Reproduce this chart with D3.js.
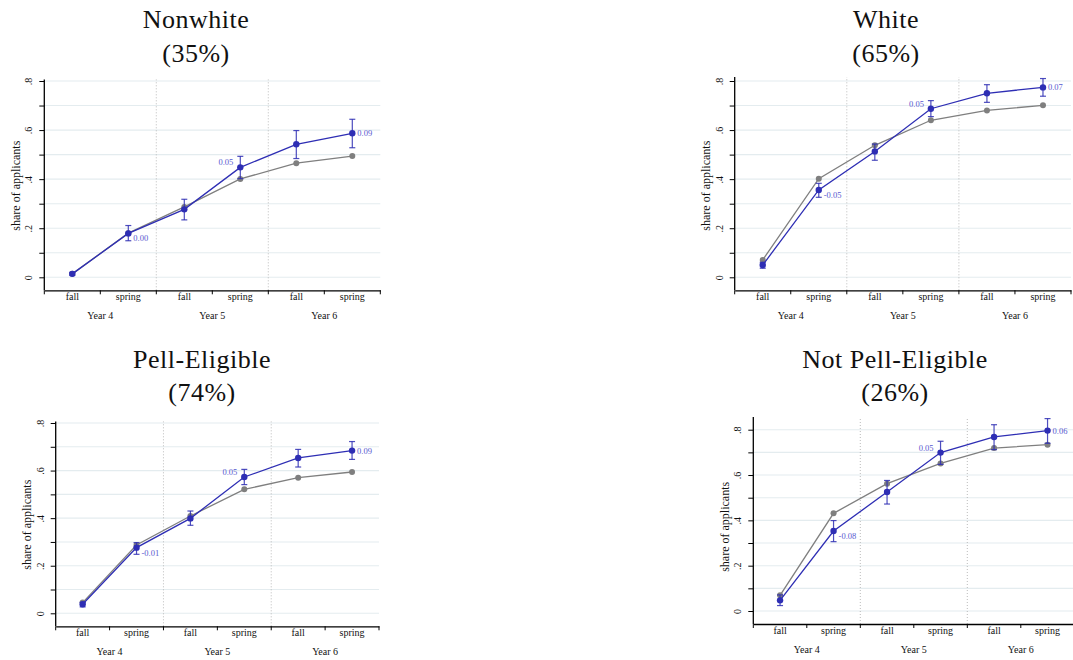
<!DOCTYPE html>
<html><head><meta charset="utf-8">
<script src="https://cdn.jsdelivr.net/npm/d3@7"></script>
<style>body{margin:0;background:#fff}svg{display:block}
svg text{font-family:"Liberation Serif","Tinos","Times New Roman","Times","Nimbus Roman","Nimbus Roman No9 L","FreeSerif","DejaVu Serif","Noto Serif",serif;}</style>
</head><body><svg id="c" width="1073" height="660"></svg>
<script>
// ---------- data ----------
const terms = ["fall","spring","fall","spring","fall","spring"];
const years = ["Year 4","Year 5","Year 6"];
const yTicks = [0,0.2,0.4,0.6,0.8];
const yTickLabels = ["0",".2",".4",".6",".8"];
const gridValues = [0,0.1,0.2,0.3,0.4,0.5,0.6,0.7,0.8];
const titles = ["Nonwhite","White","Pell-Eligible","Not Pell-Eligible"];
const shares = ["(35%)","(65%)","(74%)","(26%)"];
const yTitle = "share of applicants";
const labelIndex = [1,3,5];

const nonwhiteTreated = [0.014,0.179,0.277,0.448,0.542,0.587];
const nonwhiteControl = [0.014,0.180,0.287,0.401,0.465,0.494];
const nonwhiteLow     = [0.008,0.149,0.234,0.402,0.484,0.528];
const nonwhiteHigh    = [0.020,0.211,0.318,0.493,0.598,0.644];
const nonwhiteDiff    = ["0.00","0.05","0.09"];

const whiteTreated = [0.050,0.356,0.513,0.687,0.750,0.774];
const whiteControl = [0.071,0.402,0.538,0.640,0.680,0.701];
const whiteLow     = [0.037,0.326,0.477,0.655,0.713,0.738];
const whiteHigh    = [0.061,0.383,0.543,0.720,0.785,0.810];
const whiteDiff    = ["-0.05","0.05","0.07"];

const pellTreated = [0.038,0.276,0.399,0.573,0.653,0.684];
const pellControl = [0.045,0.287,0.409,0.521,0.570,0.594];
const pellLow     = [0.027,0.248,0.370,0.541,0.615,0.647];
const pellHigh    = [0.046,0.297,0.430,0.605,0.689,0.722];
const pellDiff    = ["-0.01","0.05","0.09"];

const notPellTreated = [0.047,0.353,0.525,0.699,0.768,0.796];
const notPellControl = [0.069,0.431,0.562,0.651,0.719,0.734];
const notPellLow     = [0.024,0.306,0.472,0.647,0.712,0.740];
const notPellHigh    = [0.071,0.399,0.576,0.749,0.822,0.849];
const notPellDiff    = ["-0.08","0.05","0.06"];

// ---------- layout ----------
const panels = [
  {t:0, treated:nonwhiteTreated, control:nonwhiteControl, lo:nonwhiteLow, hi:nonwhiteHigh, diff:nonwhiteDiff,
   left:44.3, right:380.3, top:81, bottom:277.3, tx:196, ty1:28, ty2:62},
  {t:1, treated:whiteTreated, control:whiteControl, lo:whiteLow, hi:whiteHigh, diff:whiteDiff,
   left:734.7, right:1071, top:81, bottom:277.3, tx:886, ty1:28, ty2:62},
  {t:2, treated:pellTreated, control:pellControl, lo:pellLow, hi:pellHigh, diff:pellDiff,
   left:55.7, right:379, top:423, bottom:613.3, tx:202, ty1:368, ty2:401},
  {t:3, treated:notPellTreated, control:notPellControl, lo:notPellLow, hi:notPellHigh, diff:notPellDiff,
   left:753.3, right:1074.3, top:429.7, bottom:611, tx:895, ty1:368, ty2:401}
];

const BLUE = "#2e2eb4", GREY = "#7f7f7f", LBLUE = "#5858d0";
const svg = d3.select("#c");

panels.forEach(p => {
  const g = svg.append("g");
  const x = d3.scaleBand().domain(d3.range(6)).range([p.left, p.right]).padding(0);
  const bw = x.bandwidth();
  const cx = i => x(i) + bw/2;
  const y = d3.scaleLinear().domain([0,0.8]).range([p.bottom, p.top]);
  const axisY = p.bottom + 13;
  const topY = Math.min(y(0.8), y(d3.max(p.hi))) - 1.5;

  // title
  g.append("text").attr("x",p.tx).attr("y",p.ty1).attr("text-anchor","middle")
    .attr("font-size",26).attr("letter-spacing",0.5)
    .attr("fill","#111").text(titles[p.t]);
  g.append("text").attr("x",p.tx).attr("y",p.ty2).attr("text-anchor","middle")
    .attr("font-size",26).attr("letter-spacing",0.5)
    .attr("fill","#111").text(shares[p.t]);

  // gridlines
  g.selectAll(".grid").data(gridValues).enter().append("line")
    .attr("x1",p.left).attr("x2",p.right).attr("y1",d=>y(d)).attr("y2",d=>y(d))
    .attr("stroke","#e4ecef").attr("stroke-width",1.1);

  // year separators
  [2,4].forEach(i => {
    g.append("line").attr("x1",x(i)).attr("x2",x(i)).attr("y1",axisY).attr("y2",topY)
      .attr("stroke","#b4b4b4").attr("stroke-width",0.9).attr("stroke-dasharray","1,2");
  });

  // y axis
  const yAxis = d3.axisLeft(y).tickValues(gridValues).tickSize(5)
    .tickFormat(d => { const k = yTicks.findIndex(v => Math.abs(v-d)<1e-9); return k>=0 ? yTickLabels[k] : ""; });
  const ya = g.append("g").attr("transform",`translate(${p.left},0)`).call(yAxis);
  ya.attr("font-family",null);
  ya.select(".domain").remove();
  ya.selectAll(".tick line").attr("stroke","#000").attr("stroke-width",1);
  ya.selectAll(".tick text").attr("x",null).attr("dy",null)
    .attr("transform","translate(-12,0) rotate(-90)").attr("text-anchor","middle")
    .attr("font-size",10).attr("fill","#111");
  g.append("line").attr("x1",p.left).attr("x2",p.left).attr("y1",topY).attr("y2",axisY)
    .attr("stroke","#000").attr("stroke-width",1.3);

  // y title
  g.append("text").attr("transform",`translate(${p.left-29},${(p.top+axisY)/2}) rotate(-90)`)
    .attr("text-anchor","middle").attr("dy","0.35em")
    .attr("font-size",12).attr("fill","#111").text(yTitle);

  // x axis
  const xAxis = d3.axisBottom(x).tickValues([]).tickSizeOuter(0);
  const xa = g.append("g").attr("transform",`translate(0,${axisY})`).call(xAxis);
  xa.select(".domain").attr("stroke","#000").attr("stroke-width",1.3);
  d3.range(7).forEach(i => {
    const xx = i < 6 ? x(i) : p.right;
    g.append("line").attr("x1",xx).attr("x2",xx).attr("y1",axisY).attr("y2",axisY+4)
      .attr("stroke","#000").attr("stroke-width",1);
  });
  g.selectAll(".term").data(terms).enter().append("text")
    .attr("x",(d,i)=>cx(i)).attr("y",axisY+10).attr("text-anchor","middle")
    .attr("font-size",10).attr("fill","#111").text(d=>d);
  g.selectAll(".year").data(years).enter().append("text")
    .attr("x",(d,i)=>x(2*i)+bw).attr("y",axisY+29).attr("text-anchor","middle")
    .attr("font-size",10).attr("fill","#111").text(d=>d);

  // control line (grey)
  const line = d3.line().x((d,i)=>cx(i)).y(d=>y(d));
  g.append("path").datum(p.control).attr("d",line).attr("fill","none")
    .attr("stroke",GREY).attr("stroke-width",1.3);
  g.selectAll(".cdot").data(p.control).enter().append("circle")
    .attr("cx",(d,i)=>cx(i)).attr("cy",d=>y(d)).attr("r",3).attr("fill",GREY);

  // treated error bars
  p.treated.forEach((d,i) => {
    const xx = cx(i);
    g.append("line").attr("x1",xx).attr("x2",xx).attr("y1",y(p.lo[i])).attr("y2",y(p.hi[i]))
      .attr("stroke",BLUE).attr("stroke-width",1.2).attr("opacity",0.85);
    [p.lo[i],p.hi[i]].forEach(v => {
      g.append("line").attr("x1",xx-3).attr("x2",xx+3).attr("y1",y(v)).attr("y2",y(v))
        .attr("stroke",BLUE).attr("stroke-width",1.2).attr("opacity",0.85);
    });
  });

  // treated line (blue)
  g.append("path").datum(p.treated).attr("d",line).attr("fill","none")
    .attr("stroke",BLUE).attr("stroke-width",1.3);
  g.selectAll(".tdot").data(p.treated).enter().append("circle")
    .attr("cx",(d,i)=>cx(i)).attr("cy",d=>y(d)).attr("r",3.2).attr("fill",BLUE);

  // difference labels
  const offs = [{dx:5,dy:8,a:"start"},{dx:-7,dy:-2,a:"end"},{dx:5,dy:3,a:"start"}];
  labelIndex.forEach((idx,k) => {
    g.append("text").attr("x",cx(idx)+offs[k].dx).attr("y",y(p.treated[idx])+offs[k].dy)
      .attr("text-anchor",offs[k].a).attr("font-size",8.5)
      .attr("fill",LBLUE).text(p.diff[k]);
  });
});
</script></body></html>
